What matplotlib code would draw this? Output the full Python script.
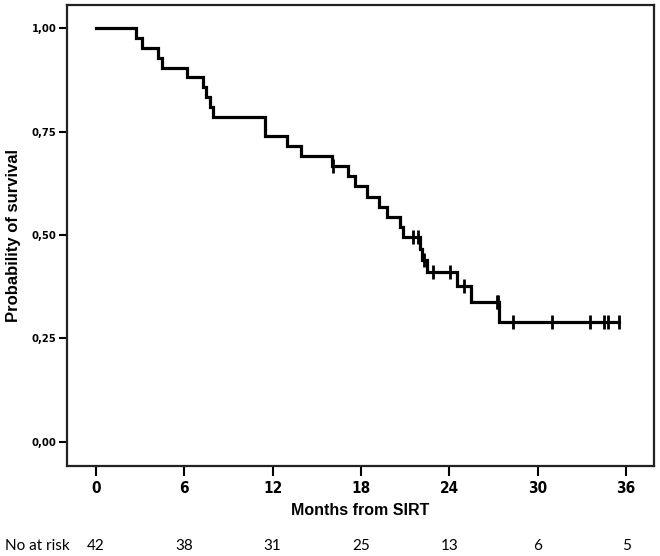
import numpy as np
import matplotlib
matplotlib.use('Agg')
import matplotlib.pyplot as plt
from matplotlib.transforms import blended_transform_factory

# follow-up time in months and status (1 = death, 0 = censored)
times = [2.7, 3.15, 4.23, 4.46, 6.2, 7.3, 7.47, 7.74, 7.97, 11.45, 11.5,
         12.95, 13.9, 16.0, 16.1, 17.14, 17.6, 18.4, 19.25, 19.75, 20.65,
         20.88, 21.5, 21.9, 22.0, 22.15, 22.3, 22.5, 22.9, 24.05, 24.55,
         25.0, 25.47, 27.2, 27.3, 27.4, 28.3, 30.96, 33.56, 34.5, 34.8, 35.5]
status = [1, 1, 1, 1, 1, 1, 1, 1, 1, 1, 1,
          1, 1, 1, 0, 1, 1, 1, 1, 1, 1,
          1, 0, 0, 1, 1, 0, 1, 0, 0, 1,
          0, 1, 0, 0, 1, 0, 0, 0, 0, 0, 0]

xticks = [0, 6, 12, 18, 24, 30, 36]
yticks = [0.0, 0.25, 0.5, 0.75, 1.0]
ytick_labels = ['0,00', '0,25', '0,50', '0,75', '1,00']
at_risk = [42, 38, 31, 25, 13, 6, 5]


# Kaplan-Meier estimate
def kaplan_meier(t, e):
    t = np.asarray(t, dtype=float)
    e = np.asarray(e)
    order = np.argsort(t, kind='stable')
    t, e = t[order], e[order]
    n = len(t)
    s = 1.0
    step_t, step_s = [0.0], [1.0]
    cens_t, cens_s = [], []
    for i in range(n):
        at_risk_i = n - i
        if e[i] == 1:
            s = s * (at_risk_i - 1) / at_risk_i
            step_t.append(t[i])
            step_s.append(s)
        else:
            cens_t.append(t[i])
            cens_s.append(s)
    step_t.append(t[-1])
    step_s.append(s)
    return step_t, step_s, cens_t, cens_s


step_t, step_s, cens_t, cens_s = kaplan_meier(times, status)

fig = plt.figure(figsize=(6.6, 5.56), dpi=100)
ax = fig.add_axes([0.1015, 0.1624, 0.8895, 0.8286])

ax.step(step_t, step_s, where='post', color='black', lw=2.3, solid_joinstyle='miter')
ax.plot(cens_t, cens_s, ls='none', marker='|', color='black', ms=10, mew=2)

ax.set_xlim(-1.97, 37.9)
ax.set_ylim(-0.058, 1.056)

ax.set_xticks(xticks)
ax.set_xticklabels([str(v) for v in xticks], fontfamily='DejaVu Sans', fontstretch='condensed',
                   fontweight='bold', fontsize=11)
ax.set_yticks(yticks)
ax.set_yticklabels(ytick_labels, fontfamily='DejaVu Sans', fontstretch='condensed',
                   fontweight='bold', fontsize=8)
ax.tick_params(axis='x', direction='out', length=7, width=1.5, pad=4)
ax.tick_params(axis='y', direction='out', length=6, width=1.5, pad=1.5)

for sp in ax.spines.values():
    sp.set_linewidth(1.6)
    sp.set_color('#222222')

ax.set_xlabel('Months from SIRT', fontfamily='Liberation Sans', fontweight='bold', fontsize=11.5, labelpad=5)
ax.set_ylabel('Probability of survival', fontfamily='Liberation Sans', fontweight='bold', fontsize=12, labelpad=8)

# number at risk row under the plot
trans = blended_transform_factory(ax.transData, fig.transFigure)
fig.text(0.008, 0.018, 'No at risk', fontfamily=['Lato', 'DejaVu Sans'], fontsize=11, ha='left', va='center')
for xv, n in zip(xticks, at_risk):
    ax.text(xv, 0.018, str(n), transform=trans, fontfamily=['Lato', 'DejaVu Sans'],
            fontsize=11, ha='center', va='center')

fig.savefig('out.png', dpi=100)
